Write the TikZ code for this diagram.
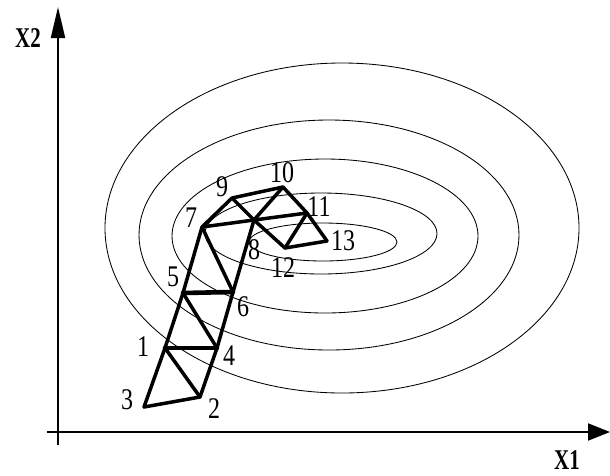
\documentclass[tikz,border=0pt]{standalone}
\usepackage{fontspec}
\usepackage{graphicx}
\setmainfont{Liberation Serif}
\usetikzlibrary{arrows.meta}
\begin{document}
\begin{tikzpicture}[x=1pt,y=-1pt,
  contour/.style={line width=0.85pt},
  edge/.style={line width=3.5pt,line join=round,line cap=round},
  thickedge/.style={line width=4.6pt,line cap=round},
  axis/.style={line width=2pt},
  lbl/.style={inner sep=0pt,font=\fontsize{24}{24}\selectfont},
  axlbl/.style={inner sep=0pt,font=\fontsize{22}{22}\selectfont\bfseries}]
\useasboundingbox (0,0) rectangle (610,475);
% contours
\draw[contour] (342,228) ellipse [x radius=237pt, y radius=165pt];
\draw[contour] (329,235) ellipse [x radius=190pt, y radius=115pt];
\draw[contour] (325,236) ellipse [x radius=153pt, y radius=77pt];
\draw[contour] (321,233.5) ellipse [x radius=116pt, y radius=40.5pt];
\draw[contour] (323,242) ellipse [x radius=74pt, y radius=19pt];
% axes
\coordinate (o1) at (47,432);
\coordinate (xe) at (610,432);
\coordinate (o2) at (58,445);
\coordinate (ye) at (58,7);
\draw[axis,-{Triangle[length=22pt,width=17pt]}] (o1) -- (xe);
\draw[axis,-{Triangle[length=31pt,width=14pt]}] (o2) -- (ye);
\node[axlbl] (lx1) at (567,460) {\scalebox{0.95}[1.3]{X1}};
\node[axlbl] (lx2) at (28,38) {\scalebox{0.95}[1.3]{X2}};
% simplex vertices
\coordinate (p1) at (165,348);
\coordinate (p2) at (200,397);
\coordinate (p3) at (144,407);
\coordinate (p4) at (217,348);
\coordinate (p5) at (183,293);
\coordinate (p6) at (233,292);
\coordinate (p7) at (202,227);
\coordinate (p8) at (254,220);
\coordinate (p9) at (232,198);
\coordinate (p10) at (283,187);
\coordinate (p11) at (307,213);
\coordinate (p12) at (285,248);
\coordinate (p13) at (327,241);
% edges
\draw[edge] (p3) -- (p2);
\draw[edge] (p3) -- (p1);
\draw[edge] (p1) -- (p2);
\draw[edge] (p2) -- (p4);
\draw[thickedge] (p1) -- (p4);
\draw[edge] (p1) -- (p5);
\draw[edge] (p5) -- (p4);
\draw[edge] (p4) -- (p6);
\draw[thickedge] (p5) -- (p6);
\draw[edge] (p5) -- (p7);
\draw[edge] (p7) -- (p6);
\draw[edge] (p6) -- (p8);
\draw[edge] (p7) -- (p8);
\draw[edge] (p8) -- (p11);
\draw[edge] (p7) -- (p9);
\draw[edge] (p9) -- (p10);
\draw[edge] (p9) -- (p8);
\draw[edge] (p8) -- (p10);
\draw[edge] (p10) -- (p11);
\draw[edge] (p8) -- (p12);
\draw[edge] (p12) -- (p11);
\draw[edge] (p11) -- (p13);
\draw[edge] (p12) -- (p13);
% labels
\node[lbl] (l1) at (143,347) {\scalebox{1}[1.25]{1}};
\node[lbl] (l2) at (214,409) {\scalebox{1}[1.25]{2}};
\node[lbl] (l3) at (127,400) {\scalebox{1}[1.25]{3}};
\node[lbl] (l4) at (229,356) {\scalebox{1}[1.25]{4}};
\node[lbl] (l5) at (173,277) {\scalebox{1}[1.25]{5}};
\node[lbl] (l6) at (243,307) {\scalebox{1}[1.25]{6}};
\node[lbl] (l7) at (191,218) {\scalebox{1}[1.25]{7}};
\node[lbl] (l8) at (254,250) {\scalebox{1}[1.25]{8}};
\node[lbl] (l9) at (222,187) {\scalebox{1}[1.25]{9}};
\node[lbl] (l10) at (282,173) {\scalebox{1}[1.25]{10}};
\node[lbl] (l11) at (319,207) {\scalebox{1}[1.25]{11}};
\node[lbl] (l12) at (283,268) {\scalebox{1}[1.25]{12}};
\node[lbl] (l13) at (343,241) {\scalebox{1}[1.25]{13}};
\end{tikzpicture}
\end{document}
